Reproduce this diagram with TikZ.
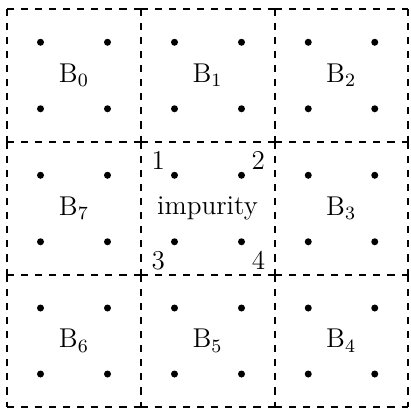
\documentclass[tikz,border=0pt]{standalone}
\begin{document}
\begin{tikzpicture}[x=0.015cm,y=-0.015cm,
  celledge/.style={draw,dashed,line width=0.8pt},
  dotmark/.style={fill=black},
  lbl/.style={inner sep=0pt,font=\fontsize{11.6}{14}\selectfont},
  numlbl/.style={inner sep=0pt,font=\fontsize{11.6}{14}\selectfont}]
\useasboundingbox (0,0) rectangle (411,411);
% cell edges, each drawn once
\foreach \y in {9,142,275,407}{
  \foreach \xl/\xr in {7/141,141/275,275/408}{
    \draw[celledge] (\xl,\y) -- (\xr,\y);
  }
}
\foreach \x in {7,141,275,408}{
  \foreach \yt/\ybm in {9/142,142/275,275/407}{
    \draw[celledge] (\x,\yt) -- (\x,\ybm);
  }
}
% dots
\foreach \xl/\xr in {7/141,141/275,275/408}{
  \foreach \yt/\ybm in {9/142,142/275,275/407}{
    \foreach \fx in {0.25,0.75}{
      \foreach \fy in {0.25,0.75}{
        \fill[dotmark] ({\xl+\fx*(\xr-\xl)},{\yt+\fy*(\ybm-\yt)}) circle (3.5);
      }
    }
  }
}
% labels
\node[lbl] (b0) at (73.9,75.4) {B$_0$};
\node[lbl] (b1) at (207.5,75.4) {B$_1$};
\node[lbl] (b2) at (341.2,75.4) {B$_2$};
\node[lbl] (b7) at (73.9,208) {B$_7$};
\node[lbl] (imp) at (207.5,208) {impurity};
\node[lbl] (b3) at (341.2,208) {B$_3$};
\node[lbl] (b6) at (73.9,340.7) {B$_6$};
\node[lbl] (b5) at (207.5,340.7) {B$_5$};
\node[lbl] (b4) at (341.2,340.7) {B$_4$};
% site numbers
\node[numlbl] (n1) at (158.3,160.7) {1};
\node[numlbl] (n2) at (258.3,160.7) {2};
\node[numlbl] (n3) at (158.3,260.5) {3};
\node[numlbl] (n4) at (258.5,260.5) {4};
\end{tikzpicture}
\end{document}
